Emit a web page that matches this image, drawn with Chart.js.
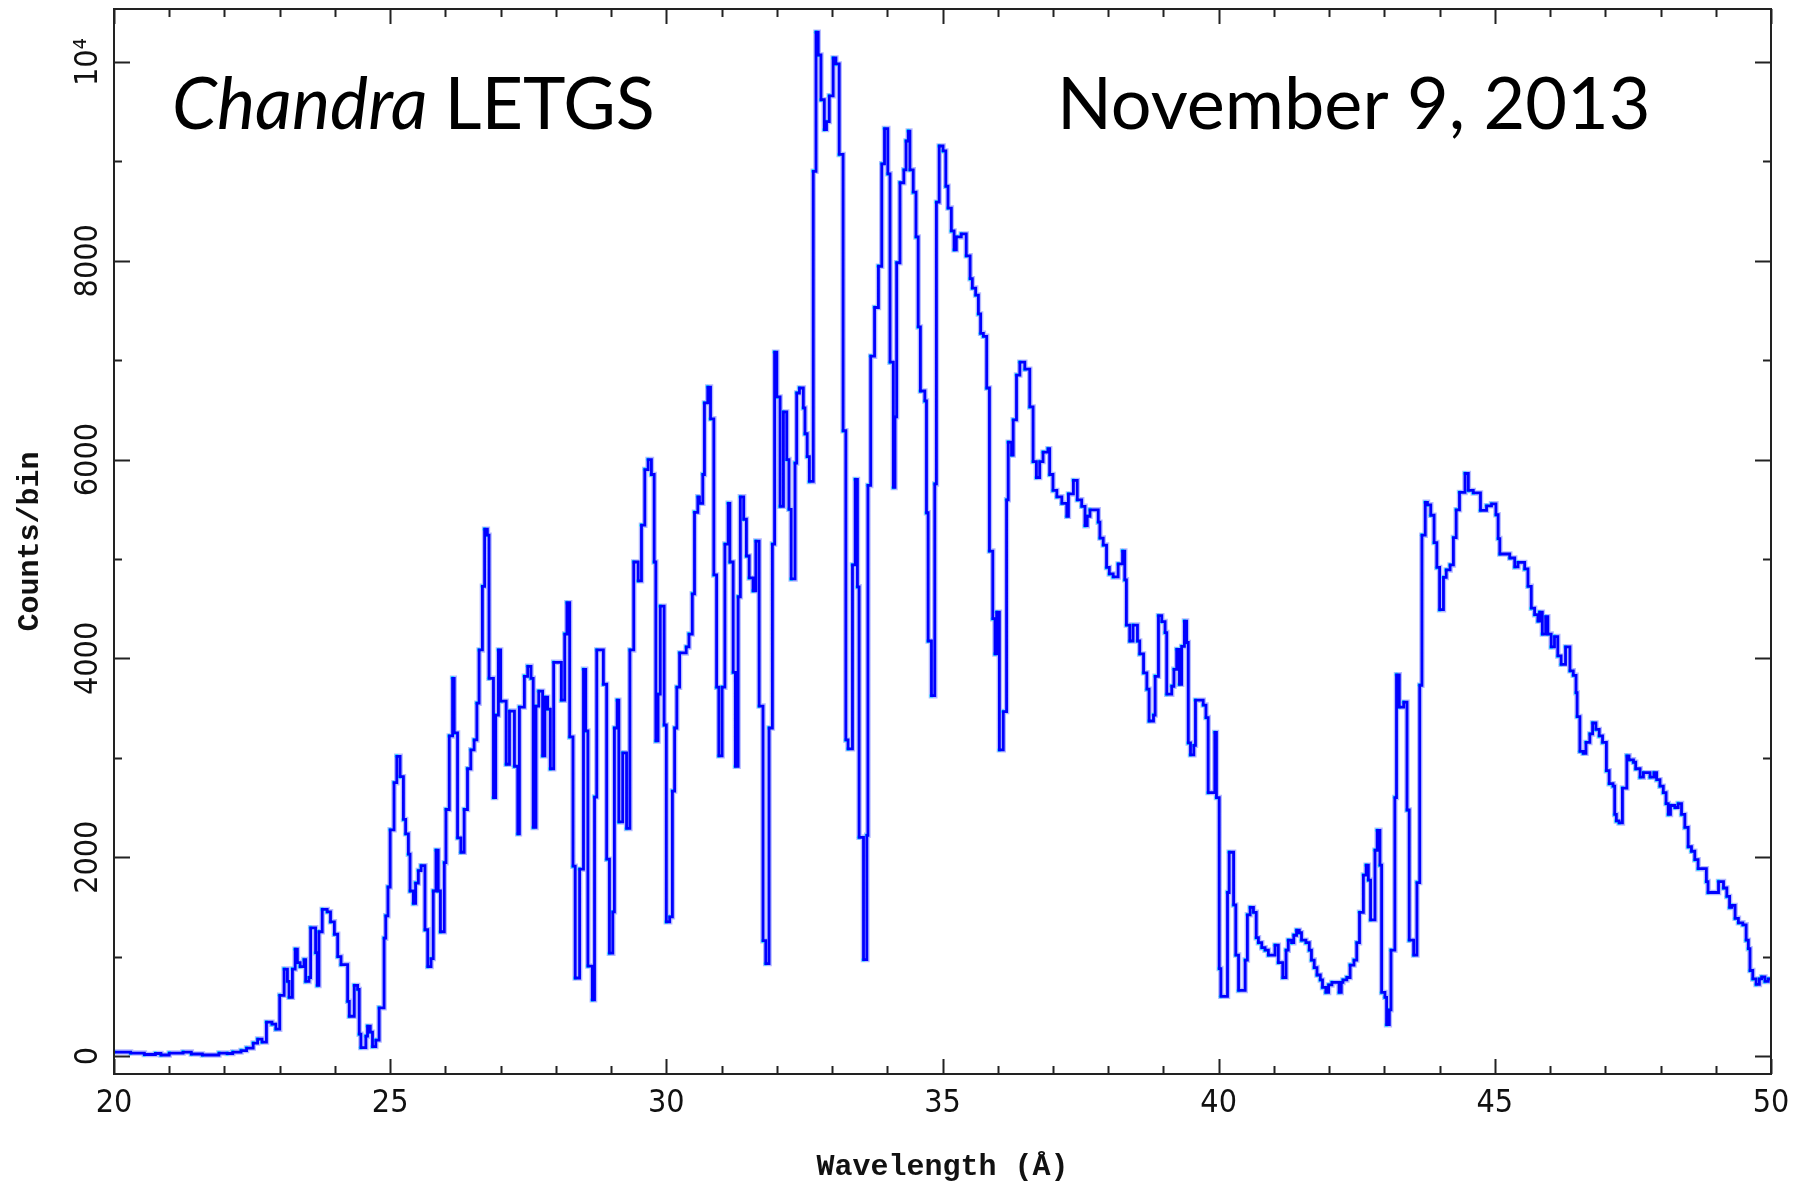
<!DOCTYPE html>
<html>
<head>
<meta charset="utf-8">
<script src="https://cdn.jsdelivr.net/npm/chart.js@4.4.1/dist/chart.umd.min.js"></script>
<style>
  html, body { margin: 0; padding: 0; background: #ffffff; }
  #wrap { width: 1796px; height: 1185px; }
</style>
</head>
<body>
<div id="wrap"><canvas id="c" width="1796" height="1185"></canvas></div>
<script>
// ---- Data: left edge of each histogram step (Angstrom) and its counts/bin ----
const wavelength = [
  20.00,20.30,20.55,20.75,20.85,21.00,21.25,21.40,21.60,21.90,22.05,22.15,22.30,22.40,22.52,22.60,22.68,22.76,22.86,22.93,
  23.00,23.08,23.14,23.17,23.23,23.28,23.32,23.37,23.44,23.47,23.53,23.56,23.65,23.68,23.71,23.77,23.86,23.92,23.99,24.05,
  24.11,24.23,24.26,24.35,24.41,24.44,24.47,24.56,24.59,24.64,24.68,24.74,24.80,24.89,24.92,24.96,25.00,25.07,25.12,25.18,
  25.24,25.28,25.33,25.36,25.42,25.46,25.51,25.56,25.63,25.68,25.74,25.78,25.83,25.87,25.91,25.98,26.01,26.07,26.13,26.16,
  26.22,26.28,26.34,26.40,26.46,26.52,26.57,26.61,26.67,26.71,26.76,26.79,26.87,26.91,26.96,27.00,27.10,27.16,27.25,27.31,
  27.34,27.43,27.49,27.55,27.59,27.64,27.69,27.76,27.80,27.85,27.90,27.96,28.10,28.16,28.20,28.25,28.31,28.35,28.43,28.50,
  28.54,28.58,28.66,28.70,28.74,28.86,28.92,28.97,29.03,29.06,29.11,29.14,29.21,29.28,29.34,29.41,29.49,29.55,29.61,29.67,
  29.73,29.78,29.81,29.85,29.89,29.96,30.00,30.06,30.11,30.15,30.19,30.24,30.36,30.41,30.47,30.51,30.57,30.60,30.66,30.69,
  30.75,30.80,30.86,30.91,30.95,31.01,31.06,31.12,31.15,31.21,31.25,31.30,31.34,31.40,31.45,31.50,31.57,31.62,31.68,31.75,
  31.80,31.86,31.92,31.96,32.00,32.06,32.12,32.18,32.22,32.26,32.33,32.36,32.41,32.48,32.51,32.55,32.59,32.66,32.71,32.75,
  32.80,32.86,32.90,32.95,33.02,33.07,33.13,33.20,33.25,33.29,33.37,33.42,33.46,33.49,33.57,33.63,33.65,33.70,33.77,33.84,
  33.90,33.95,34.01,34.05,34.11,34.14,34.17,34.23,34.30,34.34,34.38,34.41,34.47,34.52,34.56,34.60,34.68,34.71,34.74,34.80,
  34.86,34.89,34.94,35.01,35.06,35.10,35.16,35.21,35.25,35.34,35.43,35.50,35.54,35.60,35.65,35.69,35.74,35.80,35.85,35.91,
  35.95,35.98,36.03,36.10,36.16,36.19,36.25,36.28,36.34,36.40,36.49,36.58,36.64,36.70,36.76,36.82,36.91,36.94,37.00,37.07,
  37.16,37.25,37.28,37.37,37.44,37.52,37.58,37.62,37.67,37.82,37.85,37.91,37.97,38.02,38.09,38.18,38.26,38.30,38.33,38.39,
  38.45,38.53,38.57,38.64,38.70,38.74,38.82,38.85,38.91,38.97,39.03,39.06,39.15,39.19,39.24,39.29,39.33,39.38,39.42,39.45,
  39.49,39.55,39.58,39.72,39.77,39.81,39.93,39.96,40.01,40.04,40.16,40.19,40.27,40.31,40.36,40.48,40.52,40.57,40.63,40.68,
  40.72,40.78,40.84,40.90,41.02,41.08,41.16,41.22,41.26,41.32,41.36,41.41,41.46,41.50,41.58,41.64,41.68,41.73,41.78,41.84,
  41.88,41.94,41.99,42.05,42.18,42.22,42.25,42.32,42.38,42.45,42.50,42.55,42.62,42.67,42.71,42.75,42.83,42.87,42.92,42.95,
  43.01,43.04,43.09,43.12,43.19,43.22,43.27,43.35,43.41,43.45,43.53,43.59,43.64,43.68,43.74,43.78,43.84,43.90,43.95,44.00,
  44.07,44.12,44.19,44.25,44.30,44.36,44.46,44.52,44.61,44.74,44.85,44.94,45.02,45.06,45.09,45.27,45.36,45.42,45.54,45.60,
  45.66,45.72,45.78,45.81,45.86,45.92,45.96,46.02,46.08,46.14,46.20,46.28,46.36,46.42,46.47,46.49,46.54,46.60,46.65,46.72,
  46.77,46.83,46.89,46.95,47.02,47.07,47.14,47.17,47.20,47.25,47.31,47.39,47.43,47.51,47.55,47.63,47.69,47.81,47.88,47.93,
  47.99,48.05,48.10,48.14,48.18,48.26,48.32,48.38,48.44,48.50,48.56,48.62,48.68,48.83,48.86,49.05,49.14,49.20,49.25,49.29,
  49.35,49.41,49.49,49.55,49.59,49.62,49.67,49.73,49.79,49.83,49.89,49.95,50.00
];
const counts = [
  40,30,15,25,10,30,40,20,10,30,25,40,55,80,130,170,140,340,320,270,
  610,875,750,590,875,1075,940,900,970,750,790,1290,1040,710,1250,1475,1450,1350,1225,1000,
  920,550,400,710,670,220,85,200,300,240,95,160,485,1185,1410,1700,2275,2750,3015,2810,
  2380,2235,2030,1660,1535,1740,1865,1915,1270,900,980,1660,2070,1660,1250,1945,2480,3220,3800,3250,
  2195,2050,2480,2890,3080,3180,3550,4085,4725,5300,5240,3800,2600,3430,4085,3570,2935,3470,2915,2235,
  3510,3820,3920,3800,2300,3520,3670,3020,3610,3490,2890,3960,3580,4245,4560,3210,1910,785,1880,3890,
  3270,905,565,2605,4085,3740,1980,1035,1450,3300,3580,2355,3050,2290,4085,4970,4780,5340,5900,6000,
  5850,4970,3170,3640,4525,3330,1350,1400,2665,3300,3710,4055,4115,4245,4650,5470,5625,5560,5850,6570,
  6730,6410,4840,3710,3020,3710,5150,5560,4970,3860,2915,4620,5625,5400,5030,4810,4680,5180,3520,1160,
  930,3300,5150,7080,6630,5530,6480,6000,5500,4800,5965,6670,6720,6520,6260,6030,5780,8900,10300,10070,
  9620,9320,9400,9660,10040,9980,9070,6290,3180,3090,4940,5800,4720,2200,970,2220,5740,7040,7530,7945,
  8975,9330,8875,6980,5720,6430,7980,8785,8915,9205,9305,8915,8690,8240,7335,6690,6590,5465,4175,3625,
  5755,8590,9155,9105,8750,8530,8300,8110,8240,8270,8050,7820,7725,7655,7465,7270,7240,6720,5080,4400,
  4045,4465,3080,3465,5595,6175,6045,6400,6850,6980,6910,6530,5980,5820,5980,6075,6110,5850,5690,5625,
  5560,5430,5655,5790,5595,5530,5335,5430,5495,5370,5210,5140,4915,4850,4820,4950,5080,4790,4335,4175,
  4335,4175,4045,3855,3690,3370,3430,3820,4430,4370,4260,3640,3720,3890,4090,3740,4120,4375,4160,3150,
  3030,3125,3580,3530,3405,2650,3255,2600,880,600,1645,2050,1520,1015,660,965,1420,1495,1445,1190,
  1140,1090,1065,1015,1115,940,790,1065,1165,1140,1215,1265,1240,1165,1140,1065,965,890,815,765,
  690,640,715,740,640,740,765,790,915,965,1140,1445,1820,1920,1770,1370,2070,2270,1920,640,
  590,315,465,1065,2600,3835,3510,3560,2475,1165,1015,1745,3730,5240,5570,5545,5440,5165,4915,4490,
  4815,4890,4940,5215,5495,5670,5860,5690,5665,5490,5535,5555,5445,5205,5050,5010,4920,4965,4900,4725,
  4505,4440,4375,4465,4245,4420,4245,4115,4220,4025,3940,4115,3875,3830,3655,3415,3065,3045,3155,3240,
  3350,3285,3220,3155,2870,2740,2715,2430,2365,2345,2695,3020,2980,2955,2890,2805,2850,2805,2850,2780,
  2715,2650,2540,2430,2520,2500,2540,2430,2300,2105,2060,1975,1885,1755,1645,1755,1690,1605,1495,1515,
  1385,1340,1320,1165,1080,860,775,720,775,795,750,775,775
];

// ---- Axes / ticks ----
const xMin = 20, xMax = 50;
const yMin = -181, yMax = 10533;
const xTickValues = [20, 25, 30, 35, 40, 45, 50];
const xTickLabels = ['20', '25', '30', '35', '40', '45', '50'];
const xMinorStep = 1;
const yTickValues = [0, 2000, 4000, 6000, 8000, 10000];
const yTickLabels = ['0', '2000', '4000', '6000', '8000', '10\u2074'];
const yMinorStep = 1000;

const xTitle = 'Wavelength (\u00C5)';
const yTitle = 'Counts/bin';
const labelLeftItalic = 'Chandra';
const labelLeftRoman = 'LETGS';
const labelRight = 'November 9, 2013';

const points = wavelength.map((w, i) => ({ x: w, y: counts[i] }));

const tickFont = '"Liberation Sans Narrow", "DejaVu Sans Condensed", "Liberation Sans", sans-serif';
const titleFont = '"Liberation Mono", "DejaVu Sans Mono", monospace';

const frameTicks = {
  id: 'frameTicks',
  afterDatasetsDraw(chart) {
    const { ctx, chartArea: a, scales } = chart;
    const sx = scales.x, sy = scales.y;
    ctx.save();
    ctx.strokeStyle = '#222222';
    ctx.lineWidth = 2;
    ctx.lineCap = 'butt';
    ctx.strokeRect(a.left, a.top, a.right - a.left, a.bottom - a.top);
    ctx.beginPath();
    for (let k = 0; k <= (xMax - xMin) / xMinorStep; k++) {
      const v = xMin + k * xMinorStep;
      const px = Math.round(sx.getPixelForValue(v)) + 0.5;
      const L = xTickValues.includes(v) ? 15 : 8;
      ctx.moveTo(px, a.bottom); ctx.lineTo(px, a.bottom - L);
      ctx.moveTo(px, a.top); ctx.lineTo(px, a.top + L);
    }
    for (let k = 0; k <= 10; k++) {
      const v = k * yMinorStep;
      const py = Math.round(sy.getPixelForValue(v)) + 0.5;
      const L = yTickValues.includes(v) ? 16 : 8;
      ctx.moveTo(a.left, py); ctx.lineTo(a.left + L, py);
      ctx.moveTo(a.right, py); ctx.lineTo(a.right - L, py);
    }
    ctx.stroke();

    // in-plot annotations
    ctx.fillStyle = '#000000';
    ctx.textBaseline = 'alphabetic';
    ctx.textAlign = 'left';
    const base = a.top + 120;
    ctx.font = 'italic 72px Lato, "Open Sans", sans-serif';
    ctx.fillText(labelLeftItalic, a.left + 58, base);
    const w = ctx.measureText(labelLeftItalic + ' ').width;
    ctx.font = '72px Lato, "Open Sans", sans-serif';
    ctx.fillText(labelLeftRoman, a.left + 58 + w, base);
    ctx.fillText(labelRight, a.left + 943, base);
    ctx.restore();
  }
};

new Chart(document.getElementById('c'), {
  type: 'line',
  data: {
    datasets: [
      {
        data: points, parsing: false, stepped: 'before',
        borderColor: '#0000ff', borderWidth: 2.8,
        pointRadius: 0, fill: false, order: 1
      },
      {
        data: points, parsing: false, showLine: false,
        pointRadius: 2.2, pointBackgroundColor: '#19e8ff', pointBorderWidth: 0,
        order: 2
      },
      {
        data: points, parsing: false, stepped: 'before',
        borderColor: 'rgba(110,120,255,0.5)', borderWidth: 5.5,
        pointRadius: 0, fill: false, order: 3
      }
    ]
  },
  options: {
    responsive: false,
    animation: false,
    devicePixelRatio: 1,
    layout: { padding: { top: 9, right: 25, left: 0, bottom: 0 } },
    plugins: { legend: { display: false }, tooltip: { enabled: false } },
    scales: {
      x: {
        type: 'linear', min: xMin, max: xMax,
        afterFit(s) { s.height = 111; s.paddingLeft = 0; s.paddingRight = 0; },
        afterBuildTicks(s) { s.ticks = xTickValues.map(v => ({ value: v })); },
        grid: { display: false, drawTicks: false },
        border: { display: false },
        ticks: {
          autoSkip: false, maxRotation: 0, minRotation: 0, padding: 10,
          color: '#111111', font: { family: tickFont, size: 32 },
          callback: (v, i) => xTickLabels[i]
        },
        title: {
          display: true, text: xTitle, color: '#111111',
          font: { family: titleFont, size: 30, weight: 'bold' },
          padding: { top: 0, bottom: 0 }
        }
      },
      y: {
        type: 'linear', min: yMin, max: yMax,
        afterFit(s) { s.width = 114; s.paddingTop = 0; s.paddingBottom = 0; },
        afterBuildTicks(s) { s.ticks = yTickValues.map(v => ({ value: v })); },
        grid: { display: false, drawTicks: false },
        border: { display: false },
        ticks: {
          autoSkip: false, minRotation: 90, maxRotation: 90, crossAlign: 'center', padding: -11,
          color: '#111111', font: { family: tickFont, size: 32 },
          callback: (v, i) => yTickLabels[i]
        },
        title: {
          display: true, text: yTitle, color: '#111111',
          font: { family: titleFont, size: 30, weight: 'bold' },
          padding: { top: 12, bottom: 0 }
        }
      }
    }
  },
  plugins: [frameTicks]
});
</script>
</body>
</html>
